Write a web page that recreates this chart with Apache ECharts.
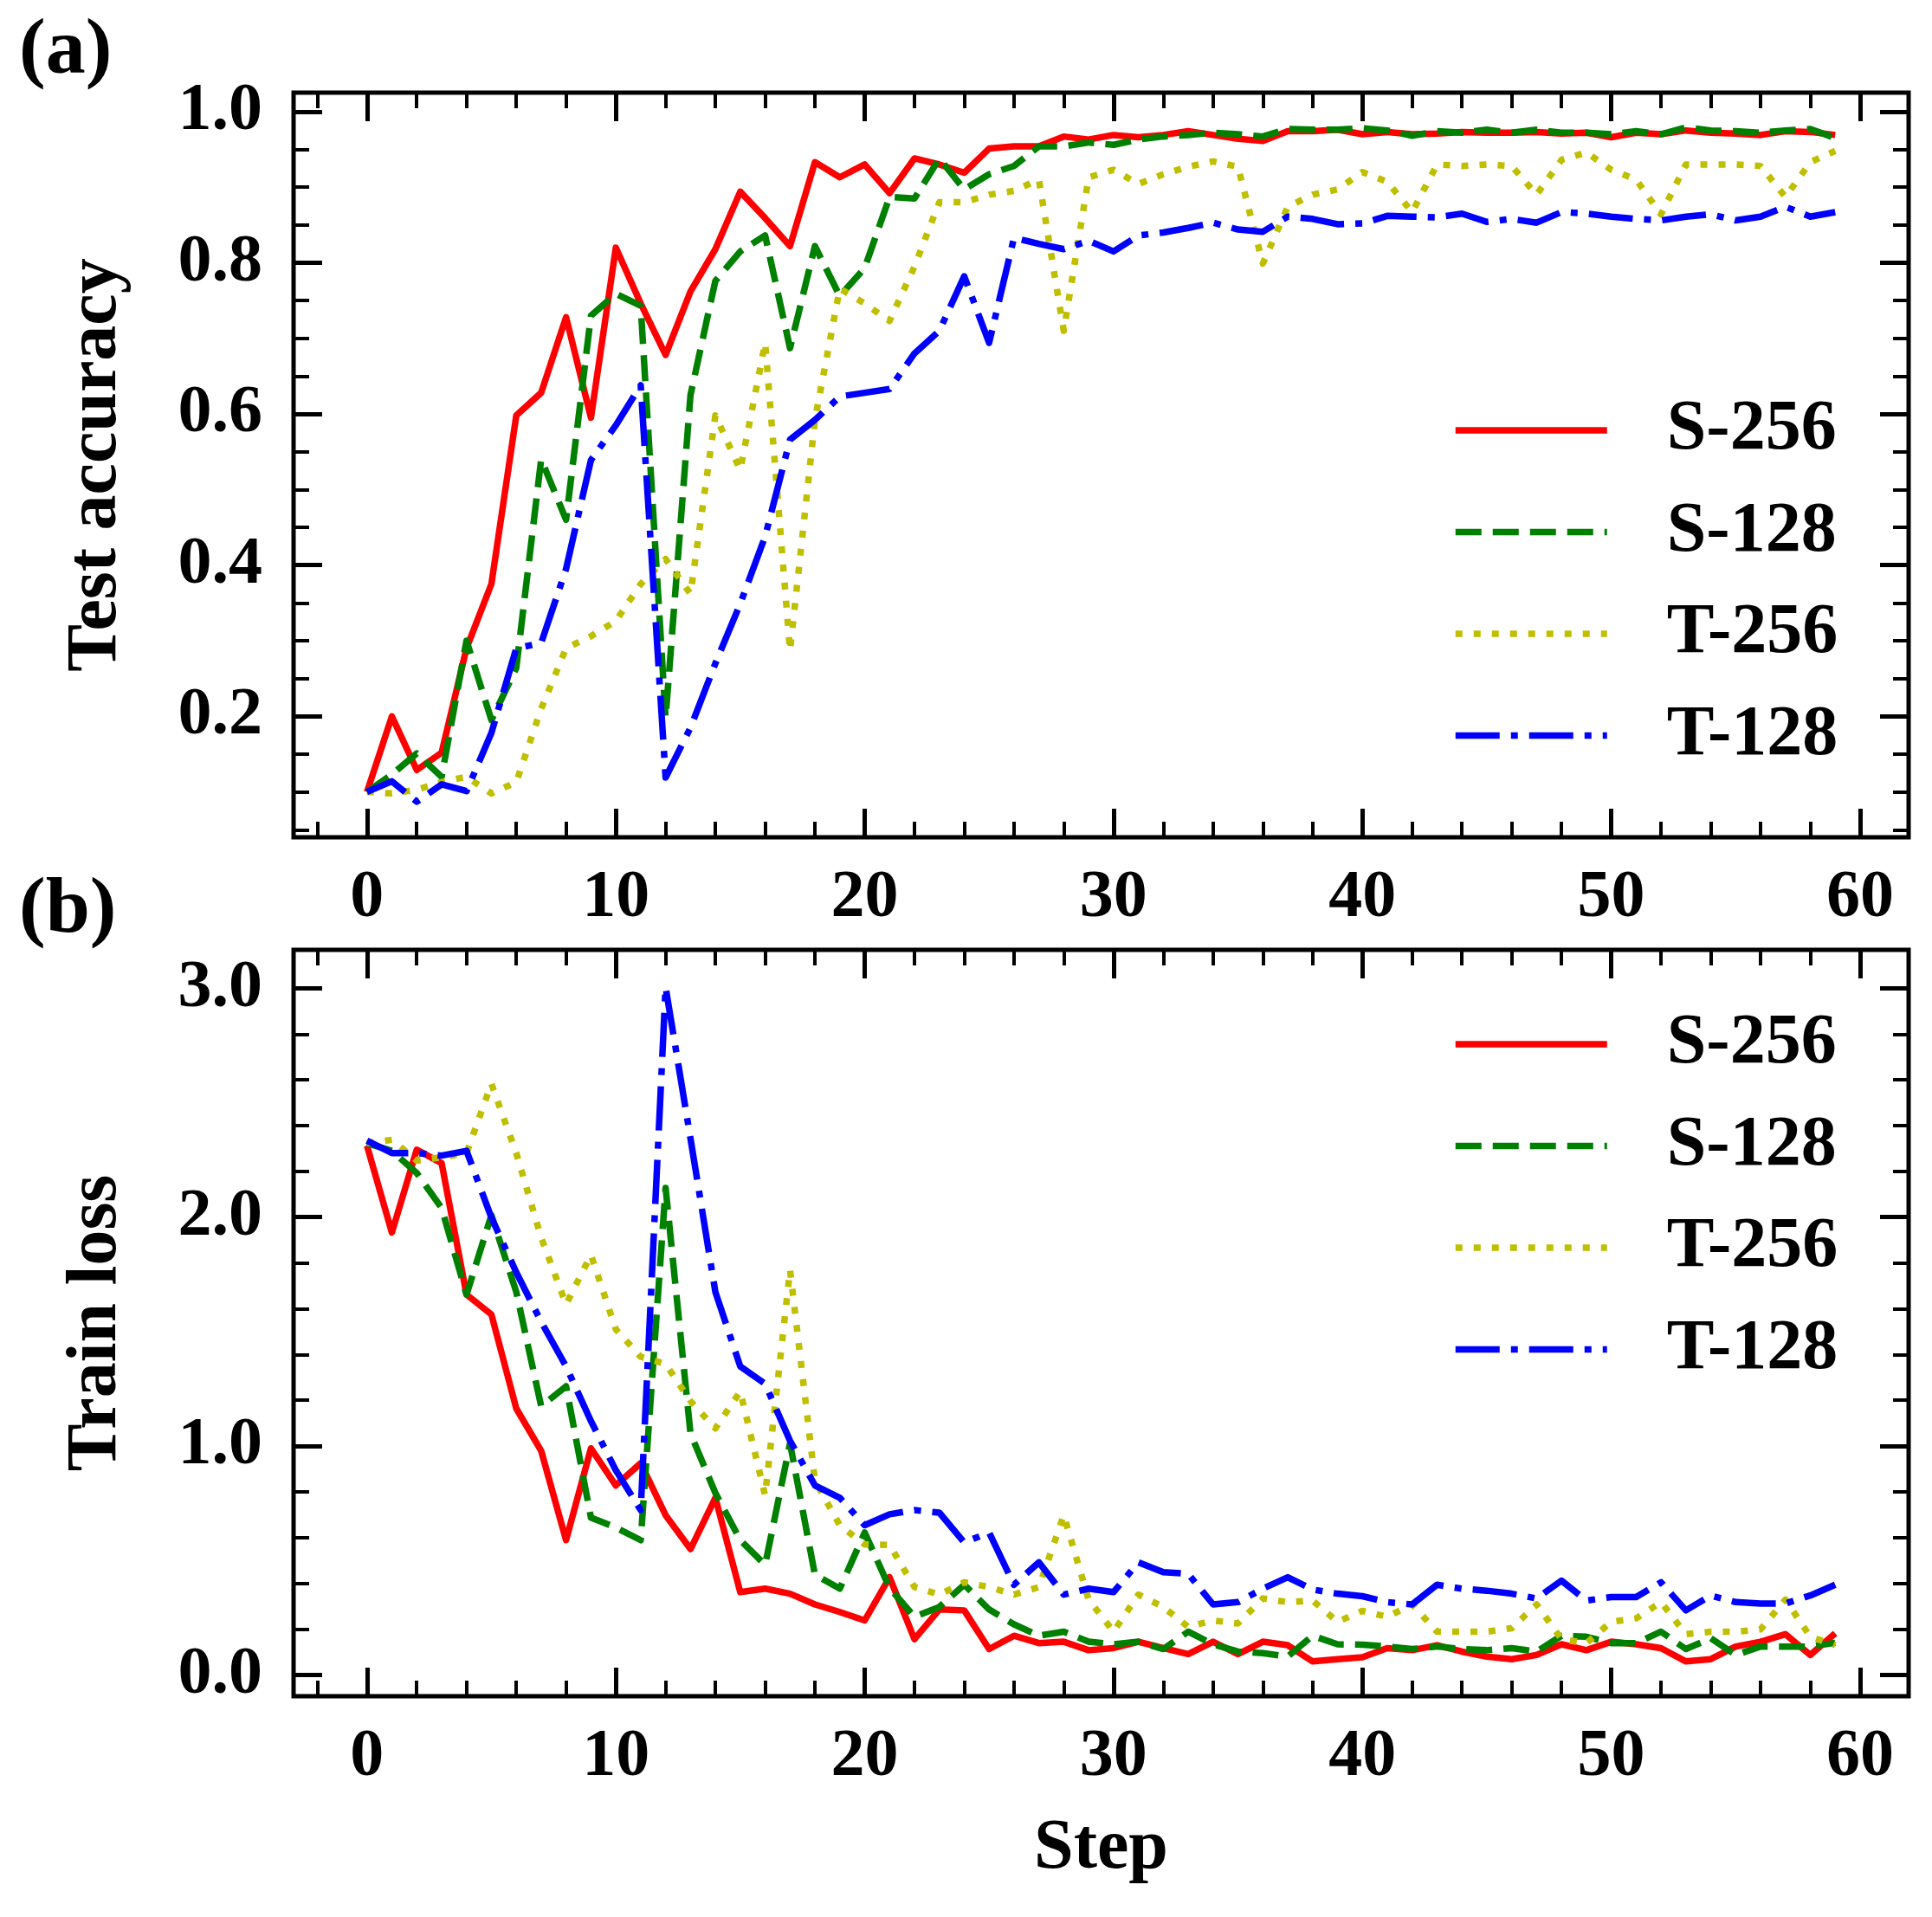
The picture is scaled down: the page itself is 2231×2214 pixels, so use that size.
<!DOCTYPE html>
<html>
<head>
<meta charset="utf-8">
<script src="https://cdn.jsdelivr.net/npm/echarts@6/dist/echarts.min.js"></script>
<style>
  html, body { margin: 0; padding: 0; background: #fff; }
  #main { width: 2231px; height: 2214px; }
</style>
</head>
<body>
<div id="main"></div>
<script>
var FONT = "'Liberation Serif', 'Times New Roman', serif";

var steps = Array.from({length: 60}, function (_, i) { return i; });
var names = ['S-256', 'S-128', 'T-256', 'T-128'];

// (a) test accuracy
var accS256 = [0.100, 0.200, 0.129, 0.152, 0.290, 0.375, 0.598, 0.628, 0.728, 0.595,
               0.820, 0.746, 0.678, 0.762, 0.818, 0.894, 0.859, 0.822, 0.933, 0.913,
               0.930, 0.892, 0.938, 0.930, 0.919, 0.951, 0.954, 0.954, 0.967, 0.963,
               0.969, 0.966, 0.969, 0.974, 0.969, 0.964, 0.961, 0.974, 0.974, 0.976,
               0.970, 0.973, 0.970, 0.971, 0.973, 0.972, 0.972, 0.973, 0.971, 0.972,
               0.966, 0.972, 0.970, 0.975, 0.972, 0.971, 0.969, 0.974, 0.973, 0.969];
var accS128 = [0.100, 0.123, 0.151, 0.120, 0.300, 0.195, 0.264, 0.540, 0.460, 0.730,
               0.759, 0.743, 0.198, 0.625, 0.776, 0.815, 0.836, 0.687, 0.822, 0.756,
               0.793, 0.887, 0.885, 0.938, 0.897, 0.917, 0.928, 0.954, 0.954, 0.959,
               0.956, 0.963, 0.967, 0.969, 0.972, 0.970, 0.967, 0.977, 0.976, 0.976,
               0.978, 0.975, 0.968, 0.974, 0.972, 0.976, 0.972, 0.976, 0.972, 0.972,
               0.970, 0.974, 0.970, 0.979, 0.975, 0.974, 0.972, 0.975, 0.977, 0.965];
var accT256 = [0.100, 0.098, 0.103, 0.113, 0.120, 0.098, 0.113, 0.210, 0.290, 0.306,
               0.326, 0.375, 0.408, 0.362, 0.598, 0.526, 0.694, 0.287, 0.592, 0.766,
               0.746, 0.723, 0.795, 0.880, 0.880, 0.890, 0.895, 0.910, 0.710, 0.913,
               0.923, 0.904, 0.917, 0.927, 0.934, 0.927, 0.799, 0.874, 0.890, 0.897,
               0.920, 0.907, 0.867, 0.930, 0.928, 0.930, 0.928, 0.890, 0.936, 0.946,
               0.923, 0.910, 0.864, 0.930, 0.930, 0.930, 0.928, 0.887, 0.933, 0.948];
var accT128 = [0.100, 0.114, 0.087, 0.110, 0.101, 0.178, 0.290, 0.297, 0.395, 0.539,
               0.585, 0.638, 0.119, 0.185, 0.270, 0.349, 0.438, 0.566, 0.592, 0.623,
               0.628, 0.633, 0.680, 0.710, 0.782, 0.694, 0.833, 0.825, 0.818, 0.829,
               0.815, 0.836, 0.840, 0.846, 0.853, 0.844, 0.841, 0.861, 0.858, 0.851,
               0.852, 0.862, 0.861, 0.860, 0.865, 0.854, 0.858, 0.853, 0.867, 0.865,
               0.861, 0.858, 0.856, 0.861, 0.864, 0.856, 0.861, 0.874, 0.861, 0.867];

// (b) train loss
var lossS256 = [2.312, 1.933, 2.295, 2.236, 1.662, 1.575, 1.164, 0.979, 0.589, 0.990,
                0.828, 0.925, 0.698, 0.550, 0.774, 0.362, 0.377, 0.355, 0.308, 0.275,
                0.238, 0.427, 0.156, 0.286, 0.282, 0.113, 0.171, 0.139, 0.145, 0.108,
                0.117, 0.145, 0.117, 0.091, 0.145, 0.091, 0.145, 0.130, 0.059, 0.069,
                0.077, 0.117, 0.108, 0.130, 0.102, 0.080, 0.069, 0.087, 0.134, 0.108,
                0.145, 0.134, 0.117, 0.059, 0.069, 0.124, 0.145, 0.178, 0.087, 0.182];
var lossS128 = [2.323, 2.290, 2.193, 2.040, 1.662, 2.009, 1.673, 1.174, 1.261, 0.687,
                0.644, 0.589, 2.128, 1.055, 0.795, 0.589, 0.481, 1.012, 0.438, 0.377,
                0.622, 0.380, 0.254, 0.297, 0.394, 0.286, 0.221, 0.171, 0.189, 0.145,
                0.134, 0.145, 0.113, 0.189, 0.134, 0.102, 0.095, 0.080, 0.171, 0.134,
                0.132, 0.124, 0.113, 0.124, 0.113, 0.108, 0.117, 0.102, 0.171, 0.167,
                0.139, 0.139, 0.189, 0.113, 0.160, 0.087, 0.124, 0.124, 0.124, 0.140];
var lossT256 = [2.323, 2.338, 2.247, 2.262, 2.280, 2.583, 2.280, 1.911, 1.619, 1.835,
                1.510, 1.390, 1.359, 1.196, 1.077, 1.239, 0.784, 1.770, 0.849, 0.654,
                0.570, 0.568, 0.384, 0.351, 0.405, 0.384, 0.351, 0.384, 0.698, 0.329,
                0.189, 0.351, 0.297, 0.210, 0.238, 0.225, 0.334, 0.318, 0.325, 0.232,
                0.280, 0.254, 0.308, 0.189, 0.189, 0.189, 0.204, 0.308, 0.156, 0.139,
                0.232, 0.247, 0.318, 0.178, 0.189, 0.189, 0.199, 0.329, 0.167, 0.130];
var lossT128 = [2.334, 2.280, 2.280, 2.269, 2.290, 1.998, 1.759, 1.543, 1.348, 1.109,
                0.894, 0.720, 3.005, 2.344, 1.673, 1.348, 1.272, 1.023, 0.828, 0.774,
                0.654, 0.702, 0.720, 0.709, 0.579, 0.622, 0.394, 0.492, 0.351, 0.377,
                0.362, 0.492, 0.449, 0.442, 0.308, 0.318, 0.377, 0.427, 0.373, 0.355,
                0.344, 0.318, 0.308, 0.394, 0.377, 0.368, 0.355, 0.334, 0.412, 0.325,
                0.340, 0.340, 0.405, 0.282, 0.347, 0.318, 0.312, 0.312, 0.347, 0.394];

// tick positions
var xMajor = [0, 10, 20, 30, 40, 50, 60];
var xMinor = [];
for (var t = -2; t <= 60; t += 2) xMinor.push(t);
var accMajor = [0.2, 0.4, 0.6, 0.8, 1.0];
var accMinor = [];
for (var k = 1; k <= 20; k++) accMinor.push(+(k * 0.05).toFixed(2));
var lossMajor = [0, 1, 2, 3];
var lossMinor = [];
for (var k = 0; k <= 15; k++) lossMinor.push(+(k * 0.2).toFixed(1));

var xRange = [-2.95, 61.95];
var accRange = [0.04, 1.025];
var lossRange = [-0.093, 3.168];

var colors = ['#ff0000', '#008000', '#bfbf00', '#0000ff'];
var dashes = ['solid', [30, 13], [8, 13], [51, 13, 8, 13]];
var LW = 7.5;

function axis(kind, grid, pos, range, ticks, major, labels, fmt) {
  return {
    type: 'value',
    gridIndex: grid,
    position: pos,
    min: range[0],
    max: range[1],
    axisLine: { show: false, onZero: false },
    splitLine: { show: false },
    axisTick: {
      show: true,
      inside: true,
      customValues: ticks,
      length: major ? 33 : 18,
      lineStyle: { color: '#000', width: major ? 5 : 4 }
    },
    axisLabel: labels ? {
      show: true,
      customValues: ticks,
      margin: kind === 'x' ? 32 : 36,
      color: '#000',
      fontFamily: FONT,
      fontWeight: 'bold',
      fontSize: 78,
      formatter: fmt
    } : { show: false }
  };
}

function fmtInt(v) { return String(Math.round(v)); }
function fmt1(v) { return v.toFixed(1); }

var xAxes = [], yAxes = [];
[0, 1].forEach(function (g) {
  var yr = g === 0 ? accRange : lossRange;
  var yMaj = g === 0 ? accMajor : lossMajor;
  var yMin = g === 0 ? accMinor : lossMinor;
  xAxes.push(axis('x', g, 'bottom', xRange, xMajor, true, true, fmtInt));
  xAxes.push(axis('x', g, 'bottom', xRange, xMinor, false, false));
  xAxes.push(axis('x', g, 'top', xRange, xMajor, true, false));
  xAxes.push(axis('x', g, 'top', xRange, xMinor, false, false));
  yAxes.push(axis('y', g, 'left', yr, yMaj, true, true, fmt1));
  yAxes.push(axis('y', g, 'left', yr, yMin, false, false));
  yAxes.push(axis('y', g, 'right', yr, yMaj, true, false));
  yAxes.push(axis('y', g, 'right', yr, yMin, false, false));
});

var titleStyle = { fontFamily: FONT, fontWeight: 'bold', fontSize: 82, color: '#000' };
yAxes[0].name = 'Test accuracy';
yAxes[0].nameLocation = 'middle';
yAxes[0].nameGap = 186;
yAxes[0].nameTextStyle = titleStyle;
yAxes[4].name = 'Train loss';
yAxes[4].nameLocation = 'middle';
yAxes[4].nameGap = 186;
yAxes[4].nameTextStyle = titleStyle;
xAxes[4].name = 'Step';
xAxes[4].nameLocation = 'middle';
xAxes[4].nameGap = 136;
xAxes[4].nameTextStyle = titleStyle;

function pairs(vals) {
  return steps.map(function (s, i) { return [s, vals[i]]; });
}

var panels = [[accS256, accS128, accT256, accT128], [lossS256, lossS128, lossT256, lossT128]];
var series = [];
panels.forEach(function (set, g) {
  set.forEach(function (vals, i) {
    series.push({
      name: names[i],
      type: 'line',
      xAxisIndex: g * 4,
      yAxisIndex: g * 4,
      data: pairs(vals),
      symbol: 'none',
      showSymbol: false,
      animation: false,
      z: 2 + i,
      lineStyle: { color: colors[i], width: LW, type: dashes[i], cap: 'butt', join: 'round' },
      itemStyle: { color: colors[i] }
    });
  });
});

function legend(top) {
  return {
    data: names,
    orient: 'vertical',
    left: 1672,
    top: top,
    itemWidth: 175,
    itemHeight: 14,
    itemGap: 35.5,
    selectedMode: false,
    lineStyle: { width: LW },
    itemStyle: { opacity: 0, borderWidth: 0 },
    textStyle: {
      fontFamily: FONT, fontWeight: 'bold', fontSize: 82, color: '#000',
      lineHeight: 82, padding: [0, 0, 0, 64]
    }
  };
}

var chart = echarts.init(document.getElementById('main'), null, { renderer: 'canvas' });
chart.setOption({
  backgroundColor: '#fff',
  animation: false,
  grid: [
    { left: 339, top: 107, width: 1865, height: 860, show: true, borderColor: '#000', borderWidth: 5, backgroundColor: 'transparent' },
    { left: 339, top: 1097, width: 1865, height: 862, show: true, borderColor: '#000', borderWidth: 5, backgroundColor: 'transparent' }
  ],
  xAxis: xAxes,
  yAxis: yAxes,
  legend: [legend(451), legend(1160)],
  graphic: [
    { type: 'text', left: 22, top: 14, style: { text: '(a)', fontFamily: FONT, fontWeight: 'bold', fontSize: 92, fill: '#000' } },
    { type: 'text', left: 22, top: 1006, style: { text: '(b)', fontFamily: FONT, fontWeight: 'bold', fontSize: 92, fill: '#000' } }
  ],
  series: series
});
</script>
</body>
</html>
